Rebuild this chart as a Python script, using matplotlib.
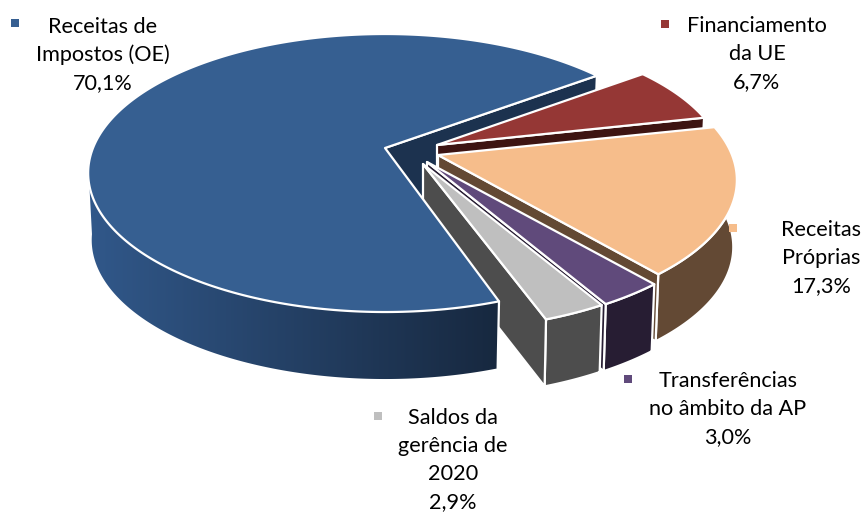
import numpy as np
import matplotlib
matplotlib.use("Agg")
import matplotlib.pyplot as plt
from matplotlib.patches import Polygon

categories = ["Receitas de\nImpostos (OE)", "Financiamento\nda UE", "Receitas\nPróprias",
              "Transferências\nno âmbito da AP", "Saldos da\ngerência de\n2020"]
shares = [70.1, 6.7, 17.3, 3.0, 2.9]
top_colors = ["#365F91", "#953735", "#F6BD8B", "#604A7B", "#BFBFBF"]
side_colors = ["#1C324F", "#3D1412", "#634934", "#271D33", "#4D4D4D"]
blue_side_ends = ["#31588A", "#17283F"]

# layout, in pixels of the 862x513 picture
W, H = 862, 513
CENTER = (385, 148)
A, B, K = 292, 134.5, 0.18
DEPTH = 67
SHRINK = 0.012
START = 161.1
apex_offsets = [(0, 0), (52, -3), (53, 7), (42, 14), (38, 16)]
rim_offsets = [(0, 0), (50, -3), (55, 7), (51, 17), (47, 18)]
radii = [1.0, 0.98, 1.0, 1.0, 1.0]
label_pos = [(103, 55), (757, 54), (821, 258), (728, 409), (453, 460)]
key_pos = [(15, 23), (665, 24), (733, 228), (628, 379), (378, 416)]
WHITE = dict(edgecolor="white", linewidth=1.6, joinstyle="round")


def rim(angles, off, rad=1.0):
    # clockwise degrees from the top of the disc, through a mild perspective
    t = np.radians(angles)
    u, v = np.sin(t), -np.cos(t)
    w = 1 - K * v
    return np.column_stack([CENTER[0] + off[0] + rad * A * u / w,
                            CENTER[1] + off[1] + rad * B * v / w])


def lower(pts, off):
    # same points on the underside of the slice
    pts = np.atleast_2d(pts).astype(float).copy()
    pts[:, 0] -= (pts[:, 0] - CENTER[0] - off[0]) * SHRINK
    pts[:, 1] += DEPTH
    return pts


fig = plt.figure(figsize=(W / 100, H / 100), dpi=100)
ax = fig.add_axes([0, 0, 1, 1])
ax.axis("off")

sweeps = np.array(shares) * 3.6
starts = START + np.concatenate([[0], np.cumsum(sweeps)[:-1]])


def apex_of(i):
    return np.array([CENTER[0] + apex_offsets[i][0], CENTER[1] + apex_offsets[i][1]], dtype=float)


def cut_face(i, p):
    a = apex_of(i)
    poly = np.vstack([a, p, lower(p, rim_offsets[i]), lower(a, apex_offsets[i])])
    ax.add_patch(Polygon(poly, facecolor=side_colors[i], **WHITE))


# blue slice wall comes first, its top and side come last
r0 = rim(np.linspace(starts[0], starts[0] + sweeps[0], 300), rim_offsets[0])
cut_face(0, r0[-1])

for i in [1, 2, 3, 4]:
    r = rim(np.linspace(starts[i], starts[i] + sweeps[i], 120), rim_offsets[i], radii[i])
    ax.add_patch(Polygon(np.vstack([r, lower(r, rim_offsets[i])[::-1]]), facecolor=side_colors[i], **WHITE))
    cut_face(i, r[-1])
    ax.add_patch(Polygon(np.vstack([apex_of(i), r]), facecolor=top_colors[i], **WHITE))

# blue side with its left-to-right gradient, only the front part of the rim
rf = rim(np.linspace(starts[0], 262, 200), rim_offsets[0])
lf = lower(rf, rim_offsets[0])
side = Polygon(np.vstack([rf, lf[::-1]]), transform=ax.transData, facecolor="none", edgecolor="none")
ax.add_patch(side)
c0, c1 = [np.array(matplotlib.colors.to_rgb(c)) for c in blue_side_ends]
grad = np.linspace(c0, c1, 256)[np.newaxis, :, :]
im = ax.imshow(grad, extent=[88, 500, 450, 150], aspect="auto", interpolation="bilinear", zorder=1)
im.set_clip_path(side)
ax.plot([rf[0, 0], lf[0, 0]], [rf[0, 1], lf[0, 1]], color="white", lw=1.6, solid_capstyle="round")
ax.add_patch(Polygon(np.vstack([apex_of(0), r0]), facecolor=top_colors[0], **WHITE))

# labels and their small colour keys
for name, share, pos, key, col in zip(categories, shares, label_pos, key_pos, top_colors):
    text = name + "\n" + f"{share:.1f}%".replace(".", ",")
    ax.text(pos[0], pos[1], text, ha="center", va="center", fontsize=15.6, family="Lato",
            linespacing=1.5, color="black")
    ax.scatter(*key, marker="s", s=34, color=col, linewidths=0)

ax.set_xlim(0, W)
ax.set_ylim(H, 0)
fig.savefig("out.png", dpi=100)
